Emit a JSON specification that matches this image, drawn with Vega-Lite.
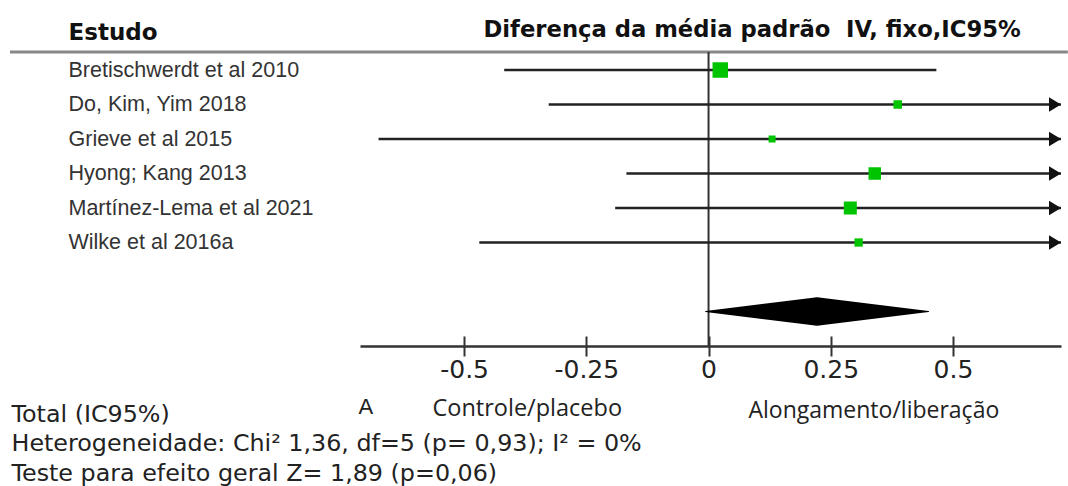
{
  "$schema": "https://vega.github.io/schema/vega-lite/v6.json",
  "width": 701,
  "height": 294,
  "autosize": {"type": "none"},
  "padding": {"left": 360, "top": 52, "right": 7, "bottom": 140},
  "background": "white",
  "config": {"view": {"stroke": null}, "axis": {"grid": false}},
  "datasets": {
    "estudos": [
      {"estudo": "Bretischwerdt et al 2010", "dmp": 0.024, "li": -0.418, "ls": 0.466, "peso": 31.8},
      {"estudo": "Do, Kim, Yim 2018", "dmp": 0.387, "li": -0.327, "ls": 1.101, "peso": 9.5},
      {"estudo": "Grieve et al 2015", "dmp": 0.130, "li": -0.675, "ls": 0.935, "peso": 6.5},
      {"estudo": "Hyong; Kang 2013", "dmp": 0.340, "li": -0.168, "ls": 0.848, "peso": 20.7},
      {"estudo": "Martínez-Lema et al 2021", "dmp": 0.290, "li": -0.191, "ls": 0.771, "peso": 22.4},
      {"estudo": "Wilke et al 2016a", "dmp": 0.307, "li": -0.469, "ls": 1.083, "peso": 9.1}
    ],
    "total": [
      {"estudo": "Total", "dmp": -0.006, "altura": 0},
      {"estudo": "Total", "dmp": 0.222, "altura": 1},
      {"estudo": "Total", "dmp": 0.450, "altura": 0}
    ]
  },
  "resolve": {
    "scale": {"y": "independent", "size": "independent"},
    "axis": {"x": "independent", "y": "independent"}
  },
  "layer": [
    {
      "data": {"values": [{}]},
      "mark": {"type": "rule", "color": "#888888", "strokeWidth": 3},
      "encoding": {
        "x": {"datum": -1.429, "type": "quantitative", "scale": {"domain": [-0.713, 0.721], "nice": false, "zero": false}, "axis": null},
        "x2": {"datum": 0.735},
        "y": {"datum": 1, "type": "quantitative", "scale": {"domain": [0, 1]}, "axis": null}
      }
    },
    {
      "data": {"values": [{}]},
      "mark": {"type": "rule", "color": "#333333", "strokeWidth": 2},
      "encoding": {
        "x": {"datum": 0, "type": "quantitative", "scale": {"domain": [-0.713, 0.721], "nice": false, "zero": false},
          "axis": {"orient": "bottom", "values": [-0.5, -0.25, 0, 0.25, 0.5], "labels": false, "domain": false, "ticks": true, "tickSize": -10, "tickColor": "#333333", "tickWidth": 2, "grid": false,
            "title": "A", "titleFont": "Liberation Sans", "titleFontSize": 22, "titleFontWeight": "normal", "titleColor": "#222222", "titleAlign": "left", "titleBaseline": "alphabetic", "titleX": -2, "titleY": 67, "titleLimit": 2000}}
      }
    },
    {
      "data": {"name": "estudos"},
      "mark": {"type": "rule", "color": "#222222", "strokeWidth": 2.5, "clip": true},
      "encoding": {
        "x": {"field": "li", "type": "quantitative", "scale": {"domain": [-0.713, 0.721], "nice": false, "zero": false},
          "axis": {"orient": "bottom", "values": [-0.5, -0.25, 0, 0.25, 0.5], "labelExpr": "'' + datum.value", "domain": true, "domainColor": "#333333", "domainWidth": 2.5, "ticks": true, "tickColor": "#333333", "tickWidth": 2, "tickSize": 10,
            "labelFont": "DejaVu Sans", "labelFontSize": 25, "labelColor": "#222222", "labelPadding": 1, "labelFlush": false, "labelOverlap": false, "grid": false,
            "title": "Diferença da média padrão\u00a0 IV, fixo,IC95%", "titleFont": "DejaVu Sans", "titleFontWeight": "bold", "titleFontSize": 22.7, "titleColor": "#111111", "titleAlign": "left", "titleBaseline": "alphabetic", "titleX": 123, "titleY": -309.5, "titleLimit": 2000}},
        "x2": {"field": "ls"},
        "y": {"field": "estudo", "type": "nominal",
          "scale": {"type": "point", "domain": ["Bretischwerdt et al 2010", "Do, Kim, Yim 2018", "Grieve et al 2015", "Hyong; Kang 2013", "Martínez-Lema et al 2021", "Wilke et al 2016a", "(vazio)", "Total"], "padding": 0.761, "align": 0.343},
          "axis": {"orient": "left", "values": ["Bretischwerdt et al 2010", "Do, Kim, Yim 2018", "Grieve et al 2015", "Hyong; Kang 2013", "Martínez-Lema et al 2021", "Wilke et al 2016a"],
            "domain": false, "ticks": false, "tickSize": 0, "grid": false, "labelAlign": "left", "labelBaseline": "middle", "labelPadding": 292, "labelFont": "Liberation Sans", "labelFontSize": 21.5, "labelColor": "#333333", "labelLimit": 1000,
            "title": "Estudo", "titleFont": "DejaVu Sans", "titleFontWeight": "bold", "titleFontSize": 23, "titleColor": "#111111", "titleAngle": 0, "titleAlign": "left", "titleBaseline": "alphabetic", "titleX": -292, "titleY": -12.5, "titleLimit": 2000}}
      }
    },
    {
      "data": {"name": "estudos"},
      "transform": [{"filter": "datum.ls > 0.721"}],
      "mark": {"type": "point", "shape": "M-1,-0.6L0,0L-1,0.6Z", "size": 576, "filled": true, "color": "#111111", "opacity": 1},
      "encoding": {
        "x": {"datum": 0.721, "type": "quantitative", "scale": {"domain": [-0.713, 0.721], "nice": false, "zero": false},
          "axis": {"orient": "bottom", "labels": false, "ticks": false, "domain": false, "grid": false,
            "title": "Alongamento/liberação", "titleFont": "Open Sans", "titleFontSize": 23, "titleFontWeight": "normal", "titleColor": "#222222", "titleAlign": "left", "titleBaseline": "alphabetic", "titleX": 388, "titleY": 71, "titleLimit": 2000}},
        "y": {"field": "estudo", "type": "nominal",
          "scale": {"type": "point", "domain": ["Bretischwerdt et al 2010", "Do, Kim, Yim 2018", "Grieve et al 2015", "Hyong; Kang 2013", "Martínez-Lema et al 2021", "Wilke et al 2016a", "(vazio)", "Total"], "padding": 0.761, "align": 0.343},
          "axis": null}
      }
    },
    {
      "data": {"name": "estudos"},
      "mark": {"type": "point", "shape": "square", "filled": true, "color": "#00c400", "opacity": 1},
      "encoding": {
        "x": {"field": "dmp", "type": "quantitative", "scale": {"domain": [-0.713, 0.721], "nice": false, "zero": false},
          "axis": {"orient": "bottom", "labels": false, "ticks": false, "domain": false, "grid": false,
            "title": ["Total (IC95%)", "Heterogeneidade: Chi² 1,36, df=5 (p= 0,93); I² = 0%", "Teste para efeito geral Z= 1,89 (p=0,06)"],
            "titleFont": "DejaVu Sans", "titleFontSize": 23.8, "titleFontWeight": "normal", "titleColor": "#222222", "titleAlign": "left", "titleBaseline": "alphabetic", "titleX": -349, "titleY": 75, "titleLineHeight": 29.5, "titleLimit": 2000}},
        "y": {"field": "estudo", "type": "nominal",
          "scale": {"type": "point", "domain": ["Bretischwerdt et al 2010", "Do, Kim, Yim 2018", "Grieve et al 2015", "Hyong; Kang 2013", "Martínez-Lema et al 2021", "Wilke et al 2016a", "(vazio)", "Total"], "padding": 0.761, "align": 0.343},
          "axis": null},
        "size": {"field": "peso", "type": "quantitative", "scale": {"domain": [0, 100], "range": [0, 755], "zero": true}, "legend": null}
      }
    },
    {
      "data": {"name": "total"},
      "mark": {"type": "trail", "color": "#000000"},
      "encoding": {
        "x": {"field": "dmp", "type": "quantitative", "scale": {"domain": [-0.713, 0.721], "nice": false, "zero": false},
          "axis": {"orient": "bottom", "labels": false, "ticks": false, "domain": false, "grid": false,
            "title": "Controle/placebo", "titleFont": "Open Sans", "titleFontSize": 23.5, "titleFontWeight": "normal", "titleColor": "#222222", "titleAlign": "left", "titleBaseline": "alphabetic", "titleX": 72, "titleY": 69, "titleLimit": 2000}},
        "y": {"field": "estudo", "type": "nominal",
          "scale": {"type": "point", "domain": ["Bretischwerdt et al 2010", "Do, Kim, Yim 2018", "Grieve et al 2015", "Hyong; Kang 2013", "Martínez-Lema et al 2021", "Wilke et al 2016a", "(vazio)", "Total"], "padding": 0.761, "align": 0.343},
          "axis": null},
        "size": {"field": "altura", "type": "quantitative", "scale": {"domain": [0, 1], "range": [0, 28.5], "zero": true}, "legend": null}
      }
    }
  ]
}
